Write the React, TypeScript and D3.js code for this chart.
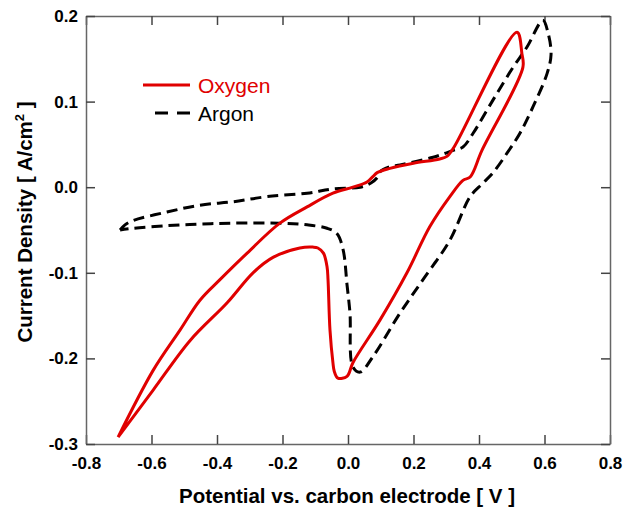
import React, { useEffect, useRef } from 'react';
import * as d3 from 'd3';

// Tick values
const xTicks = [-0.8, -0.6, -0.4, -0.2, 0.0, 0.2, 0.4, 0.6, 0.8];
const yTicks = [-0.3, -0.2, -0.1, 0.0, 0.1, 0.2];

// Oxygen CV loop (potential V, current density A/cm2)
const oxygenV = [
  -0.702, -0.595, -0.513, -0.452, -0.391, -0.308, -0.208, -0.125, -0.046, 0.015,
  0.058, 0.075, 0.089, 0.128, 0.2, 0.28, 0.302, 0.324, 0.516, 0.531,
  0.534, 0.409, 0.373, 0.351, 0.311, 0.25, 0.18, 0.098, 0.015, -0.003,
  -0.031, -0.042, -0.046, -0.055, -0.061, -0.064, -0.075, -0.092, -0.107, -0.147,
  -0.229, -0.29, -0.369, -0.482, -0.595, -0.702,
];
const oxygenI = [
  -0.292, -0.214, -0.167, -0.132, -0.108, -0.077, -0.042, -0.023, -0.007, 0.0,
  0.006, 0.012, 0.017, 0.022, 0.028, 0.033, 0.036, 0.047, 0.181, 0.156,
  0.14, 0.043, 0.012, 0.008, -0.011, -0.046, -0.1, -0.155, -0.205, -0.221,
  -0.223, -0.215, -0.205, -0.167, -0.108, -0.093, -0.077, -0.071, -0.07, -0.071,
  -0.082, -0.1, -0.135, -0.179, -0.237, -0.292,
];

// Argon CV loop
const argonV = [
  -0.696, -0.681, -0.656, -0.553, -0.452, -0.351, -0.247, -0.125, -0.046, 0.037,
  0.07, 0.089, 0.098, 0.128, 0.159, 0.26, 0.321, 0.351, 0.382, 0.443,
  0.504, 0.547, 0.595, 0.611, 0.62, 0.608, 0.565, 0.525, 0.486, 0.443,
  0.41, 0.373, 0.311, 0.229, 0.159, 0.076, 0.037, 0.015, 0.006, -0.003,
  -0.015, -0.034, -0.064, -0.125, -0.208, -0.351, -0.452, -0.553, -0.656, -0.696,
];
const argonI = [
  -0.05, -0.044, -0.039, -0.029, -0.021, -0.017, -0.011, -0.007, -0.002, 0.0,
  0.005, 0.011, 0.018, 0.024, 0.026, 0.035, 0.043, 0.047, 0.063, 0.102,
  0.14, 0.164, 0.195, 0.18, 0.155, 0.133, 0.094, 0.063, 0.04, 0.017,
  0.004, -0.011, -0.062, -0.108, -0.147, -0.198, -0.216, -0.21, -0.147, -0.114,
  -0.073, -0.054, -0.048, -0.044, -0.042, -0.042, -0.043, -0.045, -0.048, -0.05,
];

const App = () => {
  const svgRef = useRef<SVGSVGElement>(null);

  useEffect(() => {
    const svg = d3.select(svgRef.current);
    svg.selectAll('*').remove();

    const width = 630;
    const height = 511;
    const margin = { top: 16, right: 20, bottom: 67, left: 86 };
    const font = 'Arial, "Liberation Sans", Helvetica, sans-serif';
    const axisColor = '#666';

    const x = d3.scaleLinear()
      .domain([-0.8, 0.8])
      .range([margin.left, width - margin.right]);
    const y = d3.scaleLinear()
      .domain([-0.3, 0.2])
      .range([height - margin.bottom, margin.top]);

    const fmt = (d: number) => d.toFixed(1);

    const styleAxis = (g: any, labels: boolean) => {
      g.select('.domain').attr('stroke', axisColor).attr('stroke-width', 1.5);
      g.selectAll('.tick line').attr('stroke', '#444').attr('stroke-width', 1.5);
      if (labels) {
        g.selectAll('.tick text')
          .attr('fill', '#000')
          .style('font-family', font)
          .style('font-size', '17px')
          .style('font-weight', 'bold');
      } else {
        g.selectAll('.tick text').remove();
      }
    };

    // Bottom axis
    svg.append('g')
      .attr('transform', `translate(0,${height - margin.bottom})`)
      .call(d3.axisBottom(x).tickValues(xTicks).tickFormat(fmt as any).tickSizeInner(-9).tickSizeOuter(0).tickPadding(13))
      .call((g: any) => styleAxis(g, true));
    // Top axis
    svg.append('g')
      .attr('transform', `translate(0,${margin.top})`)
      .call(d3.axisTop(x).tickValues(xTicks).tickSizeInner(-9).tickSizeOuter(0))
      .call((g: any) => styleAxis(g, false));
    // Left axis
    svg.append('g')
      .attr('transform', `translate(${margin.left},0)`)
      .call(d3.axisLeft(y).tickValues(yTicks).tickFormat(fmt as any).tickSizeInner(-9).tickSizeOuter(0).tickPadding(8))
      .call((g: any) => styleAxis(g, true));
    // Right axis
    svg.append('g')
      .attr('transform', `translate(${width - margin.right},0)`)
      .call(d3.axisRight(y).tickValues(yTicks).tickSizeInner(-9).tickSizeOuter(0))
      .call((g: any) => styleAxis(g, false));

    const makePath = (vs: number[], is: number[]) =>
      d3.line<[number, number]>()
        .x(d => x(d[0]))
        .y(d => y(d[1]))
        .curve(d3.curveCatmullRom.alpha(0.5))(vs.map((v, i) => [v, is[i]]));

    // Argon (dashed black)
    svg.append('path')
      .attr('d', makePath(argonV, argonI))
      .attr('fill', 'none')
      .attr('stroke', '#000')
      .attr('stroke-width', 3)
      .attr('stroke-dasharray', '11,6')
      .attr('stroke-linejoin', 'round');

    // Oxygen (solid red)
    svg.append('path')
      .attr('d', makePath(oxygenV, oxygenI))
      .attr('fill', 'none')
      .attr('stroke', '#e00000')
      .attr('stroke-width', 3)
      .attr('stroke-linejoin', 'round');

    // Legend
    const legend = svg.append('g');
    legend.append('line')
      .attr('x1', 143).attr('x2', 190).attr('y1', 85).attr('y2', 85)
      .attr('stroke', '#e00000').attr('stroke-width', 3);
    legend.append('text')
      .attr('x', 198).attr('y', 93)
      .attr('fill', '#e00000')
      .style('font-family', font).style('font-size', '21px')
      .text('Oxygen');
    legend.append('line')
      .attr('x1', 155).attr('x2', 190).attr('y1', 113).attr('y2', 113)
      .attr('stroke', '#000').attr('stroke-width', 3)
      .attr('stroke-dasharray', '13,9');
    legend.append('text')
      .attr('x', 198).attr('y', 121)
      .attr('fill', '#000')
      .style('font-family', font).style('font-size', '21px')
      .text('Argon');

    // X axis label
    svg.append('text')
      .attr('x', 347)
      .attr('y', 503)
      .attr('text-anchor', 'middle')
      .style('font-family', font)
      .style('font-size', '20.5px')
      .style('font-weight', 'bold')
      .text('Potential vs. carbon electrode [ V ]');

    // Y axis label
    const yl = svg.append('text')
      .attr('transform', `translate(32,${(margin.top + height - margin.bottom) / 2 - 8}) rotate(-90)`)
      .attr('text-anchor', 'middle')
      .style('font-family', font)
      .style('font-size', '20.5px')
      .style('font-weight', 'bold');
    yl.append('tspan').text('Current Density [ A/cm');
    yl.append('tspan').attr('dy', -8).style('font-size', '13px').text('2');
    yl.append('tspan').attr('dy', 8).text(' ]');
  }, []);

  return (
    <svg
      ref={svgRef}
      width="630"
      height="511"
      style={{ position: 'absolute', left: 0, top: 0, background: '#fff' }}
    ></svg>
  );
};

export default App;
